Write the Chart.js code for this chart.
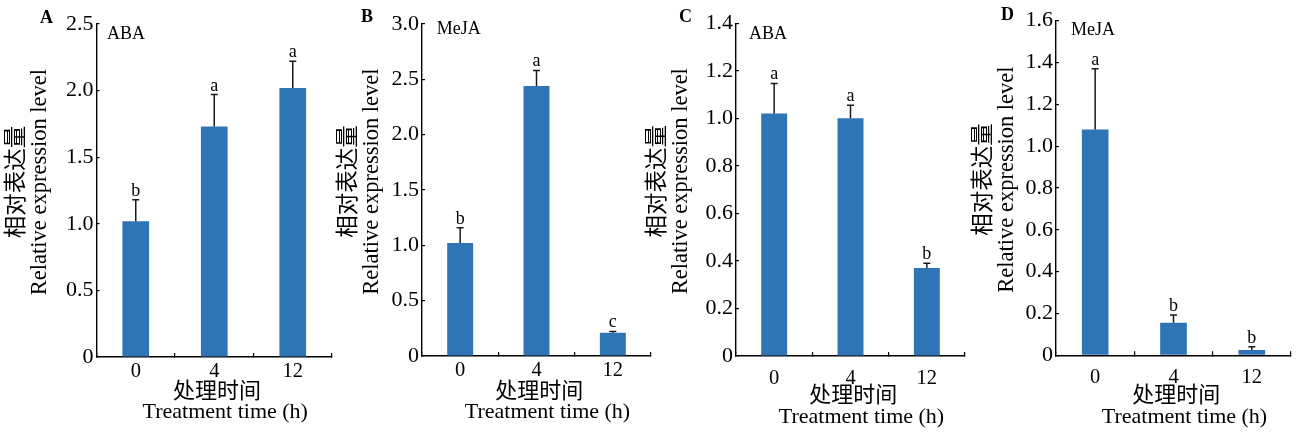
<!DOCTYPE html>
<html><head><meta charset="utf-8">
<script src="https://cdn.jsdelivr.net/npm/chart.js@4.4.1/dist/chart.umd.min.js"></script>
<style>
html,body{margin:0;padding:0;background:#fff;width:1301px;height:434px;overflow:hidden}
body{position:relative}
canvas{position:absolute;top:0}
</style></head><body>
<canvas id="cA"></canvas>
<canvas id="cB"></canvas>
<canvas id="cC"></canvas>
<canvas id="cD"></canvas>
<script>
// ---------- data ----------
const categories = ['0', '4', '12'];
const meansA = [1.02, 1.73, 2.02];
const errA   = [0.16, 0.24, 0.20];
const sigA   = ['b', 'a', 'a'];
const meansB = [1.02, 2.44, 0.21];
const errB   = [0.14, 0.14, 0.012];
const sigB   = ['b', 'a', 'c'];
const meansC = [1.02, 1.00, 0.37];
const errC   = [0.127, 0.055, 0.02];
const sigC   = ['a', 'a', 'b'];
const meansD = [1.08, 0.156, 0.025];
const errD   = [0.29, 0.037, 0.016];
const sigD   = ['a', 'b', 'b'];
const treatments = ['ABA', 'MeJA', 'ABA', 'MeJA'];
const panelLetters = ['A', 'B', 'C', 'D'];
const yMaxes = [2.5, 3.0, 1.4, 1.6];
const ySteps = [0.5, 0.5, 0.2, 0.2];
const yTitle = ['   相对表达量', '   Relative expression level'];
const xTitle = [' 处理时间', '    Treatment time (h)'];

// ---------- layout / style ----------
const H = 434;
const SERIF = "'Liberation Serif', 'Noto Sans CJK SC', serif";
const BAR = '#2f74b5';
const layouts = [
  {id:'cA', cl:1,   pl:96.5, pr:332, pt:24,   pb:357,   tickPad:8,   titlePad:11.5, lDx:-43.5, lDy:-0.7, tDx:10.5, tDy:15},
  {id:'cB', cl:333, pl:422,  pr:651, pt:24,   pb:356,   tickPad:8.5, titlePad:11.5, lDx:-49,   lDy:-2.3, tDx:14.7, tDy:9.5},
  {id:'cC', cl:642, pl:736,  pr:965, pt:23.3, pb:356,   tickPad:16,  titlePad:7,    lDx:-44,   lDy:-1.6, tDx:13,   tDy:16},
  {id:'cD', cl:968, pl:1056, pr:1291,pt:20.7, pb:355.3, tickPad:16.5,titlePad:7,    lDx:-42,   lDy:-0.7, tDx:15,   tDy:14.3}
];
const seriesMeans = [meansA, meansB, meansC, meansD];
const seriesErr = [errA, errB, errC, errD];
const seriesSig = [sigA, sigB, sigC, sigD];

const decoPlugin = {
  id: 'panelDeco',
  afterDatasetsDraw(chart, args, o) {
    const ctx = chart.ctx;
    const ys = chart.scales.y;
    const meta = chart.getDatasetMeta(0);
    ctx.save();
    ctx.strokeStyle = '#1a1a1a';
    ctx.lineWidth = 1.5;
    ctx.fillStyle = '#000';
    ctx.font = "18px " + SERIF;
    ctx.textAlign = 'center';
    ctx.textBaseline = 'alphabetic';
    o.means.forEach((m, i) => {
      const x = meta.data[i].x;
      const y0 = ys.getPixelForValue(m);
      const y1 = ys.getPixelForValue(m + o.err[i]);
      ctx.beginPath();
      ctx.moveTo(x, y0); ctx.lineTo(x, y1);
      ctx.moveTo(x - 3.5, y1); ctx.lineTo(x + 3.5, y1);
      ctx.stroke();
      ctx.fillText(o.sig[i], x, y1 - 4);
    });
    ctx.restore();
  },
  afterDraw(chart, args, o) {
    const ctx = chart.ctx;
    const a = chart.chartArea;
    ctx.save();
    ctx.fillStyle = '#000';
    ctx.textBaseline = 'alphabetic';
    ctx.font = "bold 18px " + SERIF;
    ctx.textAlign = 'right';
    ctx.fillText(o.letter, a.left + o.lDx, a.top + o.lDy);
    ctx.font = "18px " + SERIF;
    ctx.textAlign = 'left';
    ctx.fillText(o.treat, a.left + o.tDx, a.top + o.tDy);
    ctx.restore();
  }
};

layouts.forEach((L, k) => {
  const cv = document.getElementById(L.id);
  const W = Math.round(L.pr - L.cl + 6);
  cv.width = W; cv.height = H;
  cv.style.left = L.cl + 'px';
  cv.style.width = W + 'px'; cv.style.height = H + 'px';
  new Chart(cv, {
    type: 'bar',
    data: {
      labels: categories,
      datasets: [{
        data: seriesMeans[k],
        backgroundColor: BAR,
        borderWidth: 0,
        barPercentage: 0.34,
        categoryPercentage: 1.0
      }]
    },
    plugins: [decoPlugin],
    options: {
      responsive: false,
      animation: false,
      devicePixelRatio: 1,
      layout: {padding: {left: 0, right: W - (L.pr - L.cl), top: L.pt, bottom: 0}},
      plugins: {
        legend: {display: false},
        tooltip: {enabled: false},
        panelDeco: {
          means: seriesMeans[k], err: seriesErr[k], sig: seriesSig[k],
          letter: panelLetters[k], treat: treatments[k],
          lDx: L.lDx, lDy: L.lDy, tDx: L.tDx, tDy: L.tDy
        }
      },
      scales: {
        x: {
          offset: true,
          grid: {display: true, offset: true, drawOnChartArea: false, drawTicks: true,
                 tickLength: -4, color: '#000', lineWidth: 1.2},
          border: {display: true, color: '#000', width: 1.4},
          ticks: {color: '#000', padding: L.tickPad,
                  font: {family: SERIF, size: 20.5, lineHeight: 1}},
          title: {display: true, text: xTitle, color: '#000',
                  font: {family: SERIF, size: 22, lineHeight: 0.93},
                  padding: {top: 0, bottom: L.titlePad}},
          afterFit: s => { s.height = H - L.pb; }
        },
        y: {
          min: 0, max: yMaxes[k],
          grid: {display: true, drawOnChartArea: false, drawTicks: true,
                 tickLength: -3, color: '#000', lineWidth: 1.2},
          border: {display: true, color: '#000', width: 1.4},
          ticks: {stepSize: ySteps[k], color: '#000', padding: 6,
                  font: {family: SERIF, size: 22, lineHeight: 1},
                  callback: v => (v === 0 ? '0' : Number(v).toFixed(1))},
          title: {display: true, text: yTitle, color: '#000',
                  font: {family: SERIF, size: 22.5, lineHeight: 1.045},
                  padding: {top: 4, bottom: 0}},
          afterFit: s => { s.width = L.pl - L.cl; }
        }
      }
    }
  });
});
</script>
</body></html>
